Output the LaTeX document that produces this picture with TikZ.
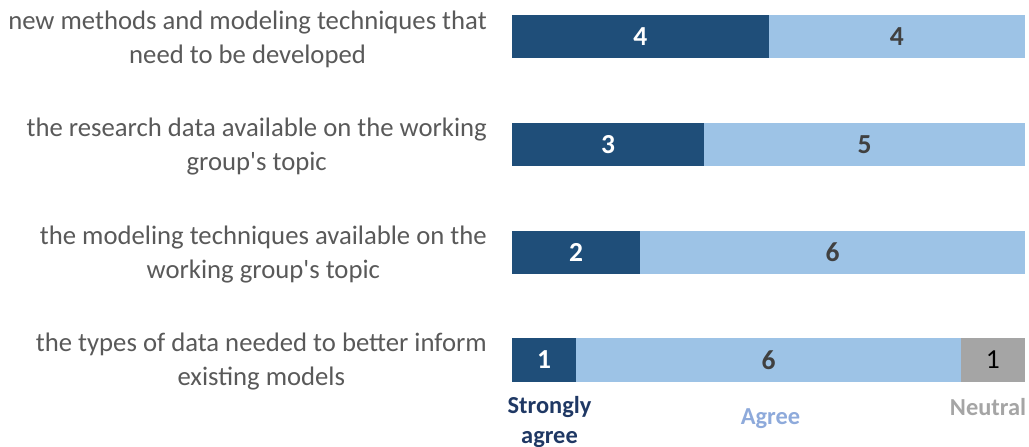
\documentclass[tikz,border=0pt]{standalone}
\usepackage{fontspec}
\setmainfont{Carlito}
\definecolor{sadark}{HTML}{1F4E79}
\definecolor{aglight}{HTML}{9DC3E6}
\definecolor{neugray}{HTML}{A5A5A5}
\definecolor{labgray}{HTML}{595959}
\definecolor{valgray}{HTML}{404040}
\definecolor{legnavy}{HTML}{1F3864}
\definecolor{legblue}{HTML}{8EAADB}
\tikzset{
  seg/.style={draw=none,inner sep=0pt,outer sep=0pt},
  sa/.style={seg,fill=sadark,text=white,font=\fontsize{27.5}{30}\selectfont\bfseries},
  ag/.style={seg,fill=aglight,text=valgray,font=\fontsize{27.5}{30}\selectfont\bfseries},
  ne/.style={seg,fill=neugray,text=black,font=\fontsize{27.5}{30}\selectfont},
  lab/.style={anchor=east,align=center,text=labgray,inner sep=0pt,font=\fontsize{26.7}{34}\selectfont},
  leg/.style={align=center,inner sep=0pt,anchor=base,font=\fontsize{24.4}{30}\selectfont\bfseries}
}
\newcommand{\segbox}[6]{% name, style, x1, x2, ytop, text
  \path[#2] (#3pt,-#5pt) rectangle (#4pt,-#5pt-43.3pt);
  \node[#2,fill=none] (#1) at ({(#3pt+#4pt)/2},-#5pt-21.65pt) {#6};}
\begin{document}
\begin{tikzpicture}
\useasboundingbox (0,0) rectangle (1029pt,-447pt);
% bar 1
\segbox{b1a}{sa}{512}{768.5}{15}{4}
\segbox{b1b}{ag}{768.5}{1025}{15}{4}
% bar 2
\segbox{b2a}{sa}{512}{704.4}{122.8}{3}
\segbox{b2b}{ag}{704.4}{1025}{122.8}{5}
% bar 3
\segbox{b3a}{sa}{512}{640.3}{230.6}{2}
\segbox{b3b}{ag}{640.3}{1025}{230.6}{6}
% bar 4
\segbox{b4a}{sa}{512}{576.1}{338.4}{1}
\segbox{b4b}{ag}{576.1}{960.9}{338.4}{6}
\segbox{b4c}{ne}{960.9}{1025}{338.4}{1}
% labels
\node[lab] (l1) at (487pt,-39pt) {new methods and modeling techniques that\\need to be developed};
\node[lab] (l2) at (487pt,-147pt) {the research data available on the working\\group\textquotesingle s topic};
\node[lab] (l3) at (487pt,-255pt) {the modeling techniques available on the\\working group\textquotesingle s topic};
\node[lab] (l4) at (487pt,-362pt) {the types of data needed to better inform\\existing models};
% legend
\node[leg,text=legnavy] (g1) at (549.5pt,-443pt) {Strongly\\agree};
\node[leg,text=legblue] (g2) at (770.5pt,-424pt) {Agree};
\node[leg,text=neugray] (g3) at (988pt,-415pt) {Neutral};
\end{tikzpicture}
\end{document}
